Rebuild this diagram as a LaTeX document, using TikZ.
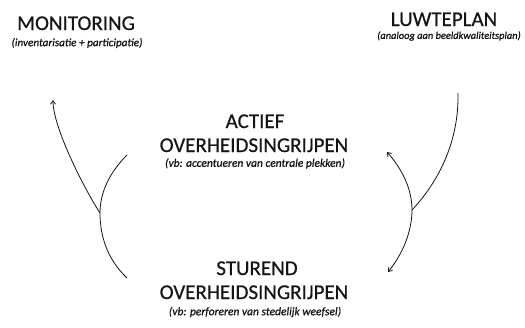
\documentclass[tikz,border=0pt]{standalone}
\usepackage{fontspec}
\setmainfont{Carlito}
\newfontfamily\titlefont[FakeBold=0.5]{Carlito}
\newfontfamily\subfont[FakeBold=0.9,ItalicFont={Carlito Italic}]{Carlito}
\usetikzlibrary{arrows.meta}
\definecolor{ink}{HTML}{141414}
\tikzset{
  title/.style={font=\titlefont\fontsize{21}{24}\selectfont, text=ink, anchor=base, inner sep=0pt},
  sub/.style={font=\subfont\fontsize{11.5}{13}\selectfont\itshape, text=ink, anchor=center, inner sep=0pt},
  smallsub/.style={sub, font=\subfont\fontsize{10.4}{12}\selectfont\itshape},
  midsub/.style={sub, font=\subfont\fontsize{11.2}{13}\selectfont\itshape},
  curve/.style={draw=ink, line width=0.8pt},
  tip/.style={-{Straight Barb[length=3.5pt,width=5pt]}},
}
\begin{document}
\begin{tikzpicture}[x=1pt,y=-1pt]
\useasboundingbox (0,0) rectangle (525,327);
% texts
\node[title] (mon) at (76,30) {MONITORING};
\node[midsub] (monsub) at (77,43) {(inventarisatie + participatie)};
\node[title] (luw) at (444,26) {LUWTEPLAN};
\node[smallsub] (luwsub) at (449,36) {(analoog aan beeldkwaliteitsplan)};
\node[title] (act1) at (255,128) {ACTIEF};
\node[title] (act2) at (254,152) {OVERHEIDSINGRIJPEN};
\node[sub] (act3) at (255,163.5) {(vb: accentueren van centrale plekken)};
\node[title] (stu1) at (257,275) {STUREND};
\node[title] (stu2) at (254,299) {OVERHEIDSINGRIJPEN};
\node[sub] (stu3) at (255,312) {(vb: perforeren van stedelijk weefsel)};
% left curves
\coordinate (mt) at (53,100);
\coordinate (lj) at (100,213);
\coordinate (la) at (127,155);
\coordinate (lb) at (127,278);
\draw[curve] (la) .. controls (110,172) and (100,192) .. (lj)
  .. controls (100,240) and (110,262) .. (lb);
\draw[curve,tip] (lj) .. controls (85,190) and (53,128) .. (mt);
% right curves
\coordinate (rt) at (458,93);
\coordinate (rj) at (412,210);
\coordinate (ra) at (387,152);
\coordinate (rb) at (388,272);
\draw[curve] (rt) .. controls (459,140) and (440,180) .. (rj);
\draw[curve,tip] (rj) .. controls (412,190) and (403,170) .. (ra);
\draw[curve,tip] (rj) .. controls (412,232) and (402,255) .. (rb);
\end{tikzpicture}
\end{document}
